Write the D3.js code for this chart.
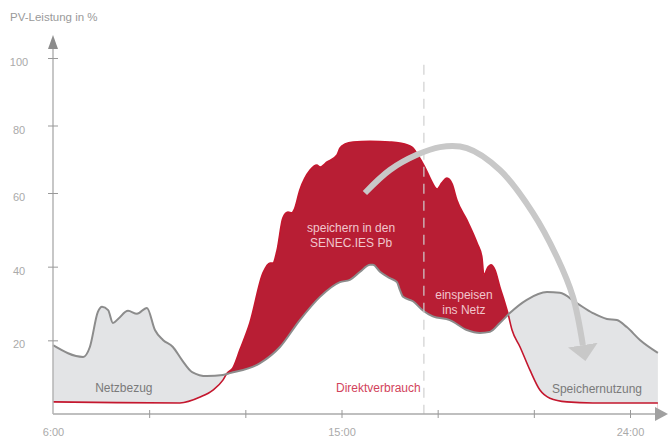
<!DOCTYPE html>
<html>
<head>
<meta charset="utf-8">
<script src="https://cdn.jsdelivr.net/npm/d3@7"></script>
<style>
    body { margin: 0; background: #fff; }
    text { font-family: "Liberation Sans", Arial, sans-serif; }
</style>
</head>
<body>
<div id="chart"></div>
<script>
// Verbrauch (grey line)
let consHours = [6.0, 6.94, 7.15, 7.40, 7.53, 7.72, 7.87, 8.03, 8.34, 8.62, 8.93, 9.18, 9.43, 9.74, 10.02, 10.34,
    10.80, 11.30, 11.52, 12.46, 13.08, 13.70, 14.33, 14.95, 15.26, 15.58, 15.89, 15.98, 16.20, 16.51, 16.73, 16.82,
    16.92, 17.23, 17.54, 17.85, 18.38, 18.91, 19.32, 19.63, 19.94, 20.25, 20.78, 21.41, 21.81, 22.34, 22.84, 23.28,
    23.59, 23.90, 24.31, 24.87];
let consValues = [18.7, 15.5, 18.2, 27.7, 29.1, 28.2, 24.7, 25.8, 28.0, 27.2, 28.8, 22.8, 20.1, 18.2, 14.7, 11.4,
    10.3, 10.6, 11.1, 13.8, 18.2, 25.5, 31.8, 35.8, 36.4, 38.6, 40.5, 40.5, 38.6, 36.9, 35.8, 33.7,
    31.8, 30.6, 28.1, 26.5, 25.5, 22.8, 22.0, 22.3, 24.7, 27.4, 31.0, 33.1, 32.9, 30.1, 27.4, 25.8,
    25.5, 23.6, 20.1, 16.6];

// PV-Leistung (red)
let pvHours = [6.0, 8.0, 9.96, 10.59, 10.99, 11.30, 11.43, 11.61, 11.83, 12.14, 12.55, 12.77, 12.86, 12.99, 13.17,
    13.33, 13.45, 13.52, 13.70, 14.02, 14.23, 14.33, 14.55, 14.86, 14.95, 15.11, 15.36, 15.89, 16.51, 16.82, 17.20,
    17.38, 17.60, 17.79, 17.98, 18.13, 18.29, 18.45, 18.60, 18.91, 19.23, 19.38, 19.44, 19.57, 19.66, 19.79, 19.94,
    20.10, 20.19, 20.32, 20.57, 20.88, 21.19, 21.50, 22.03, 22.84, 24.87];
let pvValues = [3.3, 3.1, 3.0, 4.6, 6.5, 9.2, 11.1, 12.5, 17.4, 24.7, 38.3, 41.0, 41.0, 44.5, 53.2,
    54.8, 54.6, 55.4, 60.9, 66.8, 68.3, 67.7, 69.2, 71.3, 73.3, 74.5, 75.1, 75.3, 75.1, 74.8, 73.6,
    71.3, 67.7, 63.9, 61.2, 63.0, 64.4, 62.7, 58.1, 52.7, 46.4, 42.6, 37.7, 39.9, 40.5, 39.1, 34.5,
    30.1, 27.4, 22.8, 18.2, 11.9, 6.5, 4.3, 3.3, 3.0, 3.0];

let tickHours = [9, 12, 15, 18, 21, 24];
let labelHours = [6, 15, 24];
let yTicks = [20, 40, 60, 80, 100];
let splitHour = 17.57;

// curved arrow "speichern -> Speichernutzung"
let arrowHours = [15.73, 16.51, 17.35, 18.07, 18.91, 19.94, 20.97, 21.72, 22.22, 22.53];
let arrowValues = [60.0, 66.8, 71.3, 73.6, 73.3, 66.8, 54.6, 42.6, 31.8, 18.7];

let width = 668, height = 439;

let x = d3.scaleLinear().domain([6, 24]).range([53, 630]);
let y = d3.scaleLinear().domain([0, 60, 100]).range([414, 193, 58]);

let svg = d3.select("#chart").append("svg")
    .attr("width", width)
    .attr("height", height);

let cons = consHours.map((h, i) => ({h: h, v: consValues[i]}));
let pv = pvHours.map((h, i) => ({h: h, v: pvValues[i]}));

let area = d3.area()
    .x((d) => x(d.h))
    .y0(y(0))
    .y1((d) => y(d.v))
    .curve(d3.curveMonotoneX);

let line = d3.line()
    .x((d) => x(d.h))
    .y((d) => y(d.v))
    .curve(d3.curveMonotoneX);

let defs = svg.append("defs");
defs.append("clipPath").attr("id", "pvClip")
    .append("path").attr("d", area(pv));

defs.append("marker")
    .attr("id", "bigArrow")
    .attr("markerUnits", "userSpaceOnUse")
    .attr("viewBox", "0 -16 18 32")
    .attr("refX", 0).attr("refY", 0)
    .attr("markerWidth", 18).attr("markerHeight", 32)
    .attr("orient", "auto")
    .append("path")
    .attr("d", "M0,-15L16,0L0,15Z")
    .attr("fill", "#c8c8c8");

// Netzbezug / Speichernutzung
svg.append("path").attr("d", area(cons)).attr("fill", "#e3e4e6");
// PV surplus
svg.append("path").attr("d", area(pv)).attr("fill", "#b81e34");
// Direktverbrauch (below both)
svg.append("path").attr("d", area(cons)).attr("fill", "#fff").attr("clip-path", "url(#pvClip)");

svg.append("path").attr("d", line(pv))
    .attr("fill", "none").attr("stroke", "#c4172e").attr("stroke-width", 1.6);
svg.append("path").attr("d", line(cons))
    .attr("fill", "none").attr("stroke", "#8c8c8c").attr("stroke-width", 2);

// dashed separator
svg.append("line")
    .attr("x1", x(splitHour)).attr("x2", x(splitHour))
    .attr("y1", y(98)).attr("y2", y(0))
    .attr("stroke", "#d0d0d0").attr("stroke-width", 1.2)
    .attr("stroke-dasharray", "10,7");

// text labels
svg.append("text").attr("x", x(8.21)).attr("y", y(6)).attr("text-anchor", "middle")
    .attr("font-size", 12).attr("fill", "#7a7a7a").text("Netzbezug");
svg.append("text").attr("x", x(16.15)).attr("y", y(6)).attr("text-anchor", "middle")
    .attr("font-size", 12).attr("fill", "#d2435b").text("Direktverbrauch");
svg.append("text").attr("x", x(22.97)).attr("y", y(5.7)).attr("text-anchor", "middle")
    .attr("font-size", 12).attr("fill", "#7a7a7a").text("Speichernutzung");

let t1 = svg.append("text").attr("x", x(15.3)).attr("y", y(49.4)).attr("text-anchor", "middle")
    .attr("font-size", 12).attr("fill", "#f1c6cd");
t1.append("tspan").attr("x", x(15.3)).text("speichern in den");
t1.append("tspan").attr("x", x(15.3)).attr("dy", 15).text("SENEC.IES Pb");

let t2 = svg.append("text").attr("x", x(18.82)).attr("y", y(31.2)).attr("text-anchor", "middle")
    .attr("font-size", 12).attr("fill", "#f1c6cd");
t2.append("tspan").attr("x", x(18.82)).text("einspeisen");
t2.append("tspan").attr("x", x(18.82)).attr("dy", 15).text("ins Netz");

// big curved arrow
let arrowData = arrowHours.map((h, i) => ({h: h, v: arrowValues[i]}));
svg.append("path")
    .attr("d", d3.line().x((d) => x(d.h)).y((d) => y(d.v)).curve(d3.curveCatmullRom)(arrowData))
    .attr("fill", "none")
    .attr("stroke", "#c8c8c8")
    .attr("stroke-width", 6)
    .attr("marker-end", "url(#bigArrow)");

// axes
let x0 = x(6), y0 = y(0);

svg.append("line")
    .attr("x1", x0).attr("x2", 658)
    .attr("y1", y0).attr("y2", y0)
    .attr("stroke", "#aaa").attr("stroke-width", 1.5);
svg.append("path")
    .attr("d", "M655," + (y0 - 7) + "L668," + y0 + "L655," + (y0 + 7) + "Z")
    .attr("fill", "#a0a0a0");

svg.append("line")
    .attr("x1", x0).attr("x2", x0)
    .attr("y1", y0).attr("y2", 46)
    .attr("stroke", "#b5b5b5").attr("stroke-width", 1.5);
svg.append("path")
    .attr("d", "M" + (x0 - 5) + ",49L" + x0 + ",35L" + (x0 + 5) + ",49Z")
    .attr("fill", "#8c8c8c");

let xTicks = svg.append("g")
    .attr("transform", "translate(0," + (y0 - 4) + ")")
    .call(d3.axisBottom(x).tickValues(tickHours).tickSize(8).tickFormat(""));
xTicks.select(".domain").remove();
xTicks.selectAll("line").attr("stroke", "#999");

let xLabels = svg.append("g")
    .attr("transform", "translate(0," + y0 + ")")
    .call(d3.axisBottom(x).tickValues(labelHours).tickSize(0).tickPadding(14).tickFormat((d) => d + ":00"));
xLabels.select(".domain").remove();
xLabels.selectAll("text")
    .attr("font-family", "Liberation Sans, Arial, sans-serif")
    .attr("font-size", 11).attr("fill", "#aaa");

let yTickMarks = svg.append("g")
    .attr("transform", "translate(" + (x0 - 5) + ",0)")
    .call(d3.axisRight(y).tickValues(yTicks).tickSize(10).tickFormat(""));
yTickMarks.select(".domain").remove();
yTickMarks.selectAll("line").attr("stroke", "#999");

let yLabels = svg.append("g")
    .attr("transform", "translate(19,4)")
    .call(d3.axisLeft(y).tickValues(yTicks).tickSize(0).tickPadding(0));
yLabels.select(".domain").remove();
yLabels.selectAll("text")
    .attr("x", 0)
    .attr("text-anchor", "middle")
    .attr("font-family", "Liberation Sans, Arial, sans-serif")
    .attr("font-size", 11).attr("fill", "#aaa");

svg.append("text")
    .attr("x", 10).attr("y", 21)
    .attr("font-size", 11.5).attr("fill", "#9a9a9a")
    .text("PV-Leistung in %");
</script>
</body>
</html>
